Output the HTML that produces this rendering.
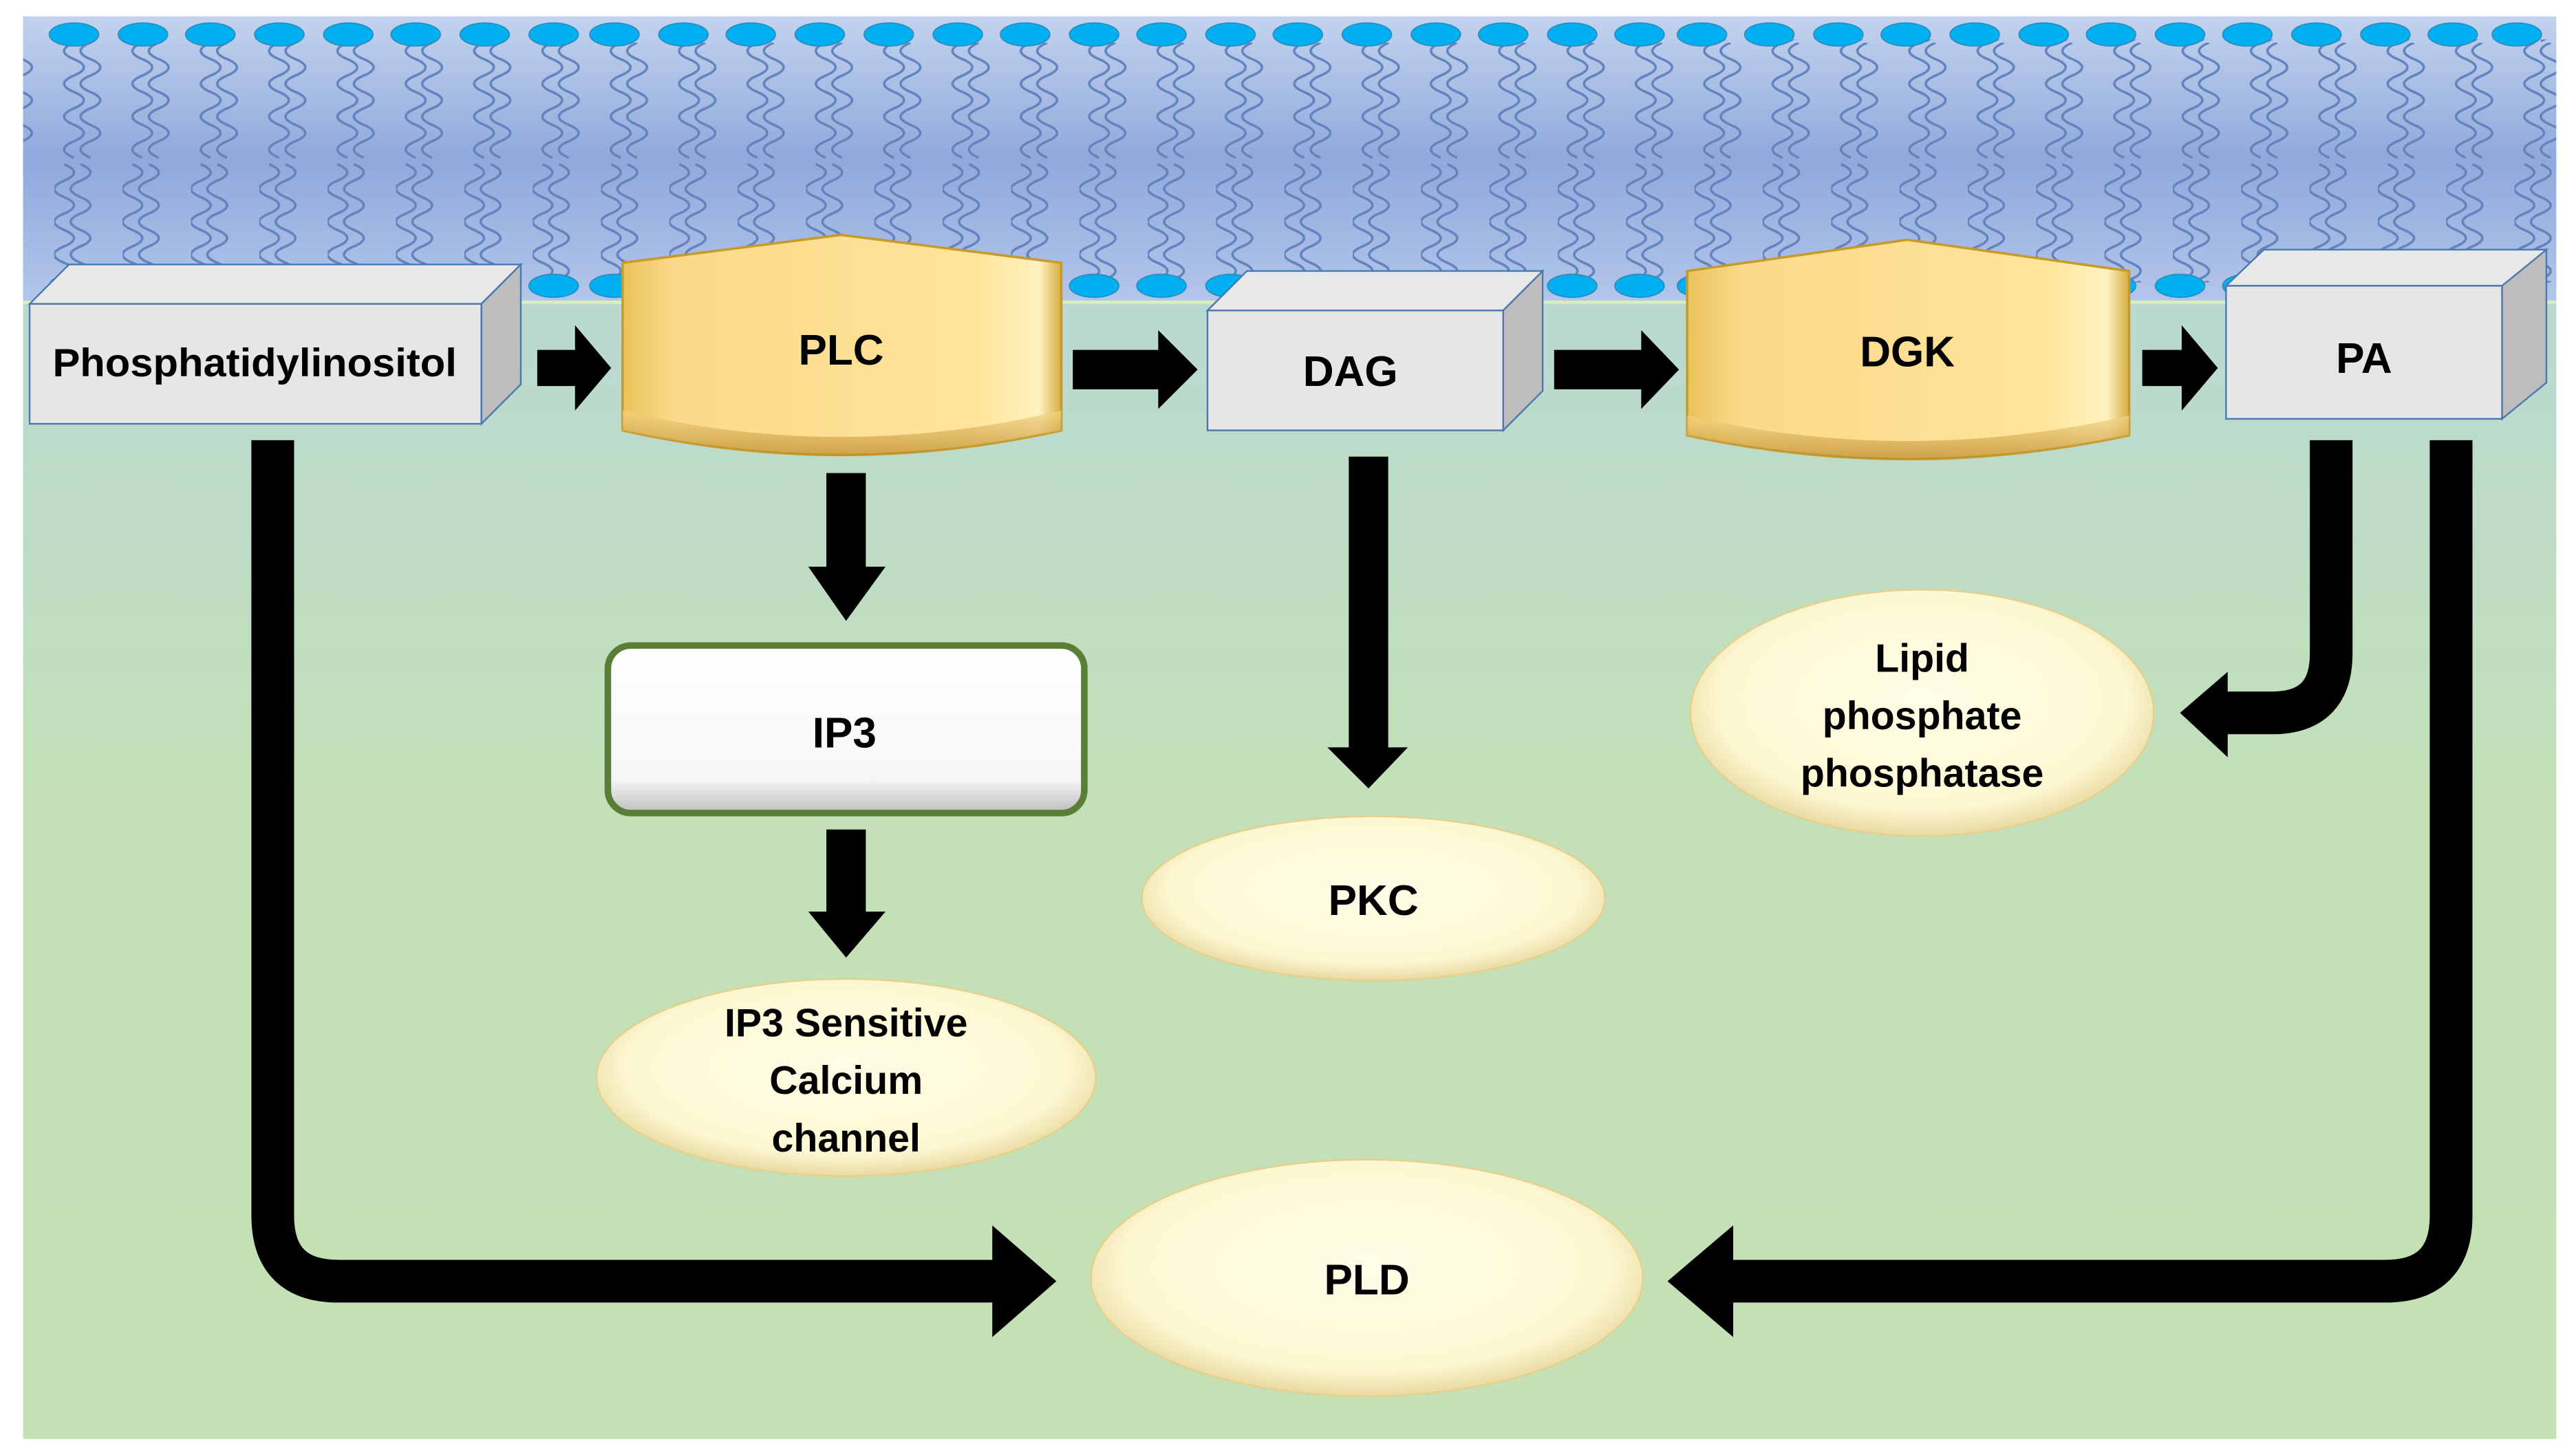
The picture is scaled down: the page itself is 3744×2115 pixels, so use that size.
<!DOCTYPE html>
<html><head><meta charset="utf-8"><style>
html,body{margin:0;padding:0;background:#fff;}
svg{display:block;}
text{font-family:"Liberation Sans",sans-serif;font-weight:bold;fill:#000;}
</style></head><body>
<svg width="3744" height="2115" viewBox="0 0 1568 885.8" xmlns="http://www.w3.org/2000/svg">
<defs>
<linearGradient id="mem" x1="0" y1="0" x2="0" y2="1">
<stop offset="0" stop-color="#c3d3ee"/><stop offset="0.5" stop-color="#8fa9dc"/><stop offset="1" stop-color="#b3c6ea"/>
</linearGradient>
<linearGradient id="cyto" x1="0" y1="0" x2="0" y2="1">
<stop offset="0" stop-color="#b5d5df"/><stop offset="0.55" stop-color="#c3e0b8"/><stop offset="1" stop-color="#c5e0b4"/>
</linearGradient>
<linearGradient id="gold" x1="0" y1="0" x2="1" y2="0">
<stop offset="0" stop-color="#e9c35a"/><stop offset="0.12" stop-color="#fbd98a"/><stop offset="0.8" stop-color="#ffe49a"/><stop offset="0.95" stop-color="#fff2c0"/><stop offset="1" stop-color="#d7ac40"/>
</linearGradient>
<linearGradient id="goldb" x1="0" y1="0" x2="0" y2="1">
<stop offset="0" stop-color="#f6d586"/><stop offset="1" stop-color="#b88a2a"/>
</linearGradient>
<radialGradient id="ell" cx="0.5" cy="0.45" r="0.55">
<stop offset="0" stop-color="#fffde6"/><stop offset="0.8" stop-color="#fdf8d2"/><stop offset="1" stop-color="#e9d9a0"/>
</radialGradient>
<linearGradient id="wht" x1="0" y1="0" x2="0" y2="1">
<stop offset="0" stop-color="#ffffff"/><stop offset="0.8" stop-color="#f6f6f6"/><stop offset="1" stop-color="#bdbdbd"/>
</linearGradient>
<pattern id="tails" patternUnits="userSpaceOnUse" x="33" y="26" width="41.6" height="145">
<g fill="none" stroke="#6283bd" stroke-width="1.5">
<path d="M12 0 q-12 5 0 10 t0 10 t0 10 t0 10 t0 10 t0 10 t0 10"/>
<path d="M22 0 q-12 5 0 10 t0 10 t0 10 t0 10 t0 10 t0 10 t0 10"/>
<path d="M6 74 q12 5 0 10 t0 10 t0 10 t0 10 t0 10 t0 10 t0 10"/>
<path d="M16 74 q12 5 0 10 t0 10 t0 10 t0 10 t0 10 t0 10 t0 10"/>
</g>
</pattern>
</defs>
<rect x="14" y="10" width="1542" height="866" fill="url(#cyto)"/>
<rect x="14" y="10" width="1542" height="174" fill="url(#mem)"/>
<line x1="14" y1="184" x2="1556" y2="184" stroke="#d8f0c0" stroke-width="2"/>
<rect x="14" y="24" width="1542" height="148" fill="url(#tails)"/>
<g fill="#00b0f0" stroke="#2a8fc0" stroke-width="0.8">
<g id="row">
<ellipse cx="45" cy="21" rx="15" ry="7"/><ellipse cx="87" cy="21" rx="15" ry="7"/><ellipse cx="128" cy="21" rx="15" ry="7"/><ellipse cx="170" cy="21" rx="15" ry="7"/><ellipse cx="212" cy="21" rx="15" ry="7"/><ellipse cx="253" cy="21" rx="15" ry="7"/><ellipse cx="295" cy="21" rx="15" ry="7"/><ellipse cx="337" cy="21" rx="15" ry="7"/><ellipse cx="374" cy="21" rx="15" ry="7"/><ellipse cx="416" cy="21" rx="15" ry="7"/><ellipse cx="457" cy="21" rx="15" ry="7"/><ellipse cx="499" cy="21" rx="15" ry="7"/><ellipse cx="541" cy="21" rx="15" ry="7"/><ellipse cx="583" cy="21" rx="15" ry="7"/><ellipse cx="624" cy="21" rx="15" ry="7"/><ellipse cx="666" cy="21" rx="15" ry="7"/><ellipse cx="707" cy="21" rx="15" ry="7"/><ellipse cx="749" cy="21" rx="15" ry="7"/><ellipse cx="790" cy="21" rx="15" ry="7"/><ellipse cx="832" cy="21" rx="15" ry="7"/><ellipse cx="874" cy="21" rx="15" ry="7"/><ellipse cx="915" cy="21" rx="15" ry="7"/><ellipse cx="957" cy="21" rx="15" ry="7"/><ellipse cx="998" cy="21" rx="15" ry="7"/><ellipse cx="1036" cy="21" rx="15" ry="7"/><ellipse cx="1077" cy="21" rx="15" ry="7"/><ellipse cx="1119" cy="21" rx="15" ry="7"/><ellipse cx="1160" cy="21" rx="15" ry="7"/><ellipse cx="1202" cy="21" rx="15" ry="7"/><ellipse cx="1244" cy="21" rx="15" ry="7"/><ellipse cx="1285" cy="21" rx="15" ry="7"/><ellipse cx="1327" cy="21" rx="15" ry="7"/><ellipse cx="1368" cy="21" rx="15" ry="7"/><ellipse cx="1410" cy="21" rx="15" ry="7"/><ellipse cx="1452" cy="21" rx="15" ry="7"/><ellipse cx="1493" cy="21" rx="15" ry="7"/><ellipse cx="1532" cy="21" rx="15" ry="7"/>
</g>
<use href="#row" y="153"/>
</g>

<polygon points="18,185 42,161 317,161 293,185" fill="#e8e8e8" stroke="#4a78b0" stroke-width="1"/>
<polygon points="293,185 317,161 317,234 293,258" fill="#bdbdbd" stroke="#4a78b0" stroke-width="1"/>
<rect x="18" y="185" width="275" height="73" fill="#e6e6e6" stroke="#4a78b0" stroke-width="1"/>
<text x="155" y="229" font-size="24" text-anchor="middle" textLength="246" lengthAdjust="spacingAndGlyphs">Phosphatidylinositol</text>

<polygon points="735,189 759,165 939,165 915,189" fill="#e8e8e8" stroke="#4a78b0" stroke-width="1"/>
<polygon points="915,189 939,165 939,238 915,262" fill="#bdbdbd" stroke="#4a78b0" stroke-width="1"/>
<rect x="735" y="189" width="180" height="73" fill="#e6e6e6" stroke="#4a78b0" stroke-width="1"/>
<text x="822" y="235" font-size="26" text-anchor="middle">DAG</text>

<polygon points="1355,174 1378,152 1550,152 1527,174" fill="#e8e8e8" stroke="#4a78b0" stroke-width="1"/>
<polygon points="1523,174 1550,152 1550,233 1523,255" fill="#bdbdbd" stroke="#4a78b0" stroke-width="1"/>
<rect x="1355" y="174" width="168" height="81" fill="#e6e6e6" stroke="#4a78b0" stroke-width="1"/>
<text x="1439" y="227" font-size="26" text-anchor="middle">PA</text>

<path d="M379,160 L512,143 L646,160 L646,262 Q512,292 379,262 Z" fill="url(#gold)" stroke="#c79a2a" stroke-width="1.5"/>
<path d="M379,250 Q512,282 646,250 L646,262 Q512,292 379,262 Z" fill="url(#goldb)" opacity="0.7"/>
<text x="512" y="222" font-size="26" text-anchor="middle">PLC</text>

<path d="M1027,165 L1161,146 L1296,165 L1296,265 Q1161,294 1027,265 Z" fill="url(#gold)" stroke="#c79a2a" stroke-width="1.5"/>
<path d="M1027,253 Q1161,284 1296,253 L1296,265 Q1161,294 1027,265 Z" fill="url(#goldb)" opacity="0.7"/>
<text x="1161" y="223" font-size="26" text-anchor="middle">DGK</text>

<g fill="#000">
<polygon points="327,213 350,213 350,198 372,224 350,250 350,235 327,235"/>
<polygon points="653,213 705,213 705,201 729,225 705,249 705,237 653,237"/>
<polygon points="946,213 999,213 999,201 1022,225 999,249 999,237 946,237"/>
<polygon points="1304,213 1328,213 1328,198 1350,224 1328,250 1328,235 1304,235"/>
<polygon points="503,288 527,288 527,345 539,345 515,378 492,345 503,345"/>
<polygon points="503,505 527,505 527,555 539,555 515,583 492,555 503,555"/>
<polygon points="821,278 845,278 845,455 857,455 833,480 808,455 821,455"/>
</g>

<rect x="370" y="393" width="290" height="102" rx="14" fill="url(#wht)" stroke="#5a7e35" stroke-width="4"/>
<text x="514" y="455" font-size="26" text-anchor="middle">IP3</text>

<ellipse cx="515" cy="656" rx="152" ry="60" fill="url(#ell)" stroke="#e6cf8a" stroke-width="1"/>
<text font-size="24" text-anchor="middle"><tspan x="515" y="631">IP3 Sensitive</tspan><tspan x="515" y="666">Calcium</tspan><tspan x="515" y="701">channel</tspan></text>
<ellipse cx="836" cy="547" rx="141" ry="50" fill="url(#ell)" stroke="#e6cf8a" stroke-width="1"/>
<text x="836" y="557" font-size="26" text-anchor="middle">PKC</text>
<ellipse cx="1170" cy="434" rx="141" ry="75" fill="url(#ell)" stroke="#e6cf8a" stroke-width="1"/>
<text font-size="24" text-anchor="middle"><tspan x="1170" y="409">Lipid</tspan><tspan x="1170" y="444">phosphate</tspan><tspan x="1170" y="479">phosphatase</tspan></text>
<ellipse cx="832" cy="778" rx="168" ry="72" fill="url(#ell)" stroke="#e6cf8a" stroke-width="1"/>
<text x="832" y="788" font-size="26" text-anchor="middle">PLD</text>

<g fill="none" stroke="#000" stroke-width="26">
<path d="M166,268 V740 Q166,780 206,780 H610"/>
<path d="M1492,268 V740 Q1492,780 1452,780 H1050"/>
<path d="M1419,268 V398 Q1419,434 1383,434 H1355"/>
</g>
<g fill="#000">
<polygon points="604,746 643,780 604,814"/>
<polygon points="1055,746 1015,780 1055,814"/>
<polygon points="1356,409 1327,434 1356,461"/>
</g>
</svg>
</body></html>
